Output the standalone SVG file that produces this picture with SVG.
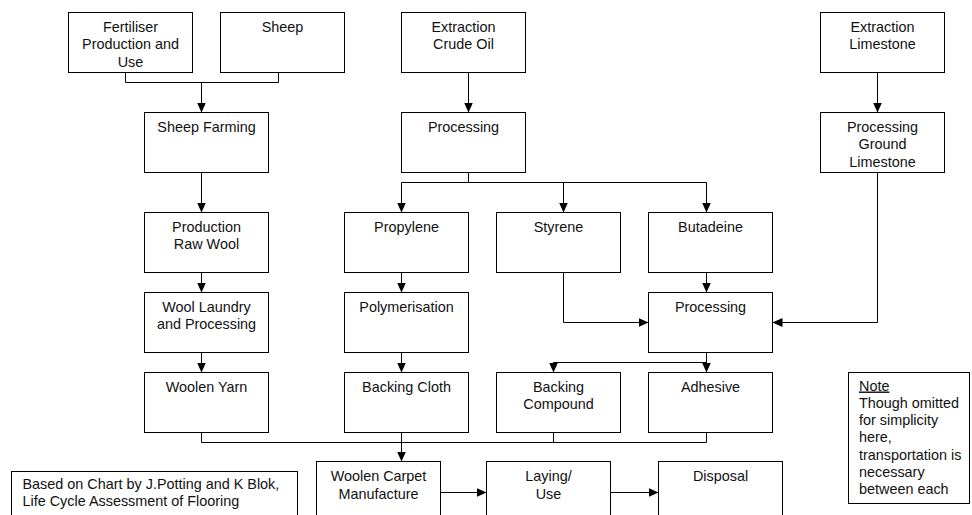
<svg xmlns="http://www.w3.org/2000/svg" width="972" height="515" viewBox="0 0 972 515">
<defs>
<marker id="arr" markerUnits="userSpaceOnUse" markerWidth="10" markerHeight="10" refX="10" refY="5" orient="auto">
<path d="M0,0.5 L10,5 L0,9.5 z" fill="#000"/>
</marker>
<style>
rect{fill:#fff;stroke:#000;stroke-width:1}
text{font-family:"Liberation Sans",Arial,sans-serif;font-size:14.4px;fill:#111}
.c{text-anchor:middle}
#connectors path{fill:none;stroke:#000;stroke-width:1}
.a{marker-end:url(#arr)}
</style>
</defs>
<rect x="0" y="0" width="972" height="515" style="stroke:none;fill:#fff"/>
<g id="connectors">
<path d="M125.5 72.5V82.5H278.5V72.5"/>
<path class="a" d="M201.5 82.5V112.5"/>
<path class="a" d="M201.5 172.5V212.5"/>
<path class="a" d="M201.5 272.5V292.5"/>
<path class="a" d="M201.5 352.5V372.5"/>
<path class="a" d="M468.5 72.5V112.5"/>
<path d="M468.5 172.5V182.5M401.5 182.5H706.5"/>
<path class="a" d="M401.5 182.5V212.5"/>
<path class="a" d="M563.5 182.5V212.5"/>
<path class="a" d="M706.5 182.5V212.5"/>
<path class="a" d="M877.5 72.5V112.5"/>
<path class="a" d="M877.5 172.5V322.5H772.5"/>
<path class="a" d="M563.5 272.5V322.5H648.5"/>
<path class="a" d="M706.5 272.5V292.5"/>
<path class="a" d="M401.5 272.5V292.5"/>
<path class="a" d="M401.5 352.5V372.5"/>
<path class="a" d="M706.5 352.5V372.5"/>
<path class="a" d="M706.5 362.5H553.5V372.5"/>
<path d="M201.5 432.5V442.5H706.5V432.5M553.5 432.5V442.5"/>
<path class="a" d="M401.5 432.5V461.5"/>
<path class="a" d="M440.5 492.5H486.5"/>
<path class="a" d="M610.5 492.5H658.5"/>
</g>
<g id="fertiliser"><rect x="68.5" y="12.5" width="124" height="60"/><text class="c" x="130.5" y="32">Fertiliser</text><text class="c" x="130.5" y="49.3">Production and</text><text class="c" x="130.5" y="66.6">Use</text></g>
<g id="sheep"><rect x="220.5" y="12.5" width="124" height="60"/><text class="c" x="282.5" y="32">Sheep</text></g>
<g id="crude-oil"><rect x="401.5" y="12.5" width="124" height="60"/><text class="c" x="463.5" y="32">Extraction</text><text class="c" x="463.5" y="49.3">Crude Oil</text></g>
<g id="limestone"><rect x="820.5" y="12.5" width="124" height="60"/><text class="c" x="882.5" y="32">Extraction</text><text class="c" x="882.5" y="49.3">Limestone</text></g>
<g id="sheep-farming"><rect x="144.5" y="112.5" width="124" height="60"/><text class="c" x="206.5" y="132">Sheep Farming</text></g>
<g id="processing-oil"><rect x="401.5" y="112.5" width="124" height="60"/><text class="c" x="463.5" y="132">Processing</text></g>
<g id="ground-limestone"><rect x="820.5" y="112.5" width="124" height="60"/><text class="c" x="882.5" y="132">Processing</text><text class="c" x="882.5" y="149.3">Ground</text><text class="c" x="882.5" y="166.6">Limestone</text></g>
<g id="raw-wool"><rect x="144.5" y="212.5" width="124" height="60"/><text class="c" x="206.5" y="232">Production</text><text class="c" x="206.5" y="249.3">Raw Wool</text></g>
<g id="propylene"><rect x="344.5" y="212.5" width="124" height="60"/><text class="c" x="406.5" y="232">Propylene</text></g>
<g id="styrene"><rect x="496.5" y="212.5" width="124" height="60"/><text class="c" x="558.5" y="232">Styrene</text></g>
<g id="butadeine"><rect x="648.5" y="212.5" width="124" height="60"/><text class="c" x="710.5" y="232">Butadeine</text></g>
<g id="wool-laundry"><rect x="144.5" y="292.5" width="124" height="60"/><text class="c" x="206.5" y="312">Wool Laundry</text><text class="c" x="206.5" y="329.3">and Processing</text></g>
<g id="polymerisation"><rect x="344.5" y="292.5" width="124" height="60"/><text class="c" x="406.5" y="312">Polymerisation</text></g>
<g id="processing-chem"><rect x="648.5" y="292.5" width="124" height="60"/><text class="c" x="710.5" y="312">Processing</text></g>
<g id="woolen-yarn"><rect x="144.5" y="372.5" width="124" height="60"/><text class="c" x="206.5" y="392">Woolen Yarn</text></g>
<g id="backing-cloth"><rect x="344.5" y="372.5" width="124" height="60"/><text class="c" x="406.5" y="392">Backing Cloth</text></g>
<g id="backing-compound"><rect x="496.5" y="372.5" width="124" height="60"/><text class="c" x="558.5" y="392">Backing</text><text class="c" x="558.5" y="409.3">Compound</text></g>
<g id="adhesive"><rect x="648.5" y="372.5" width="124" height="60"/><text class="c" x="710.5" y="392">Adhesive</text></g>
<g id="carpet-manufacture"><rect x="316.5" y="461.5" width="124" height="70"/><text class="c" x="378.5" y="481.3">Woolen Carpet</text><text class="c" x="378.5" y="498.6">Manufacture</text></g>
<g id="laying-use"><rect x="486.5" y="461.5" width="124" height="70"/><text class="c" x="548.5" y="481.3">Laying/</text><text class="c" x="548.5" y="498.6">Use</text></g>
<g id="disposal"><rect x="658.5" y="461.5" width="124" height="70"/><text class="c" x="720.5" y="481.3">Disposal</text></g>
<g id="note"><rect x="848.5" y="372.5" width="121" height="131"/><text x="859" y="390.5" text-decoration="underline">Note</text><text x="859" y="407.8">Though omitted</text><text x="859" y="425.1">for simplicity</text><text x="859" y="442.4">here,</text><text x="859" y="459.7">transportation is</text><text x="859" y="477">necessary</text><text x="859" y="494.3">between each</text></g>
<g id="source"><rect x="11.5" y="471.5" width="286" height="60"/><text x="22.5" y="488.5">Based on Chart by J.Potting and K Blok,</text><text x="22.5" y="505.8">Life Cycle Assessment of Flooring</text></g>
</svg>
